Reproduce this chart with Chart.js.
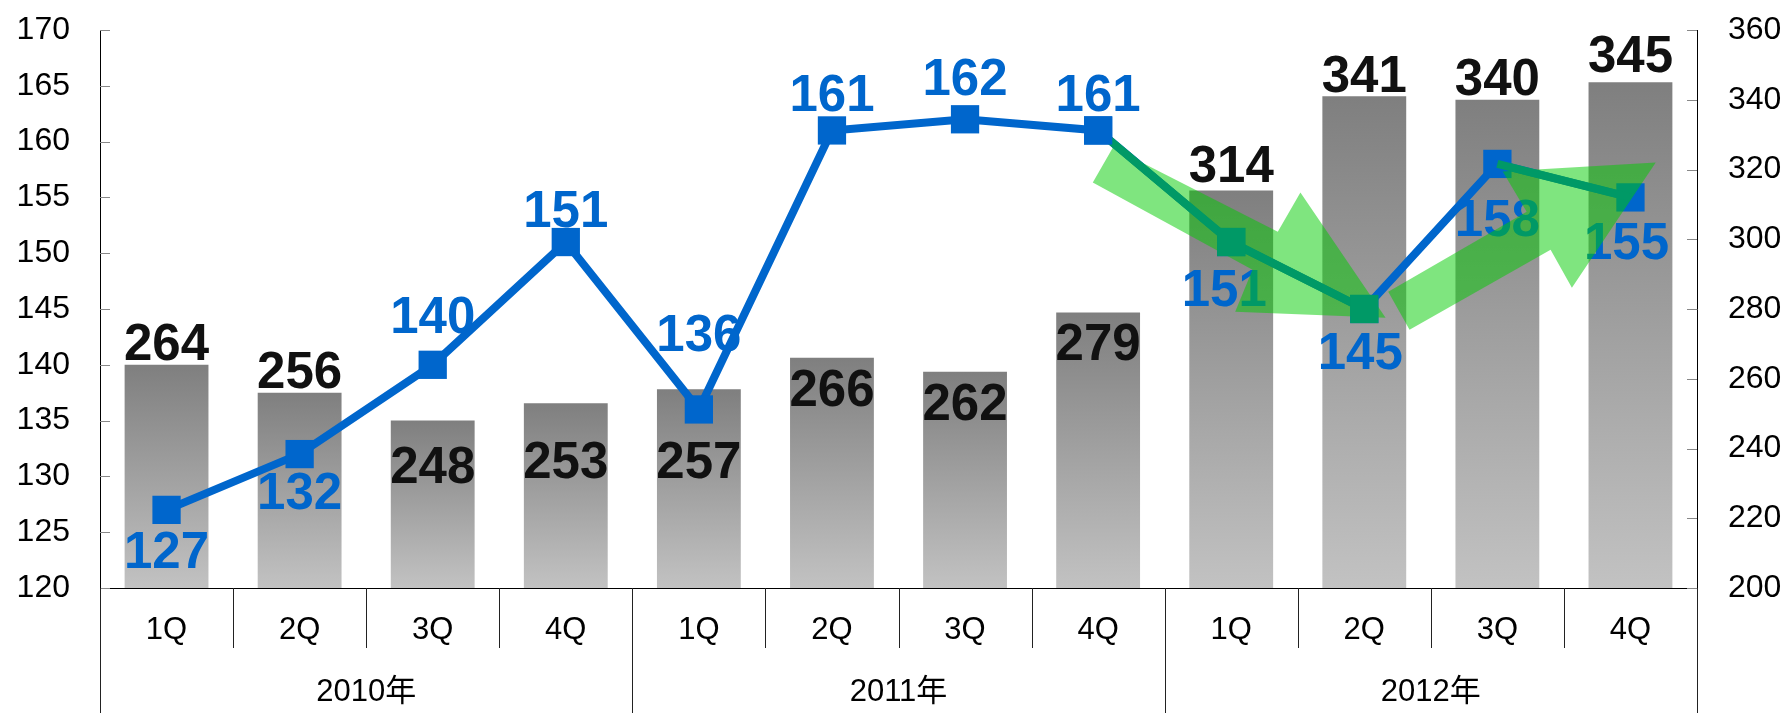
<!DOCTYPE html>
<html>
<head>
<meta charset="utf-8">
<script src="https://cdn.jsdelivr.net/npm/chart.js@4.4.1/dist/chart.umd.min.js"></script>
<style>
  html, body { margin: 0; padding: 0; background: #fff; }
  #wrap { width: 1787px; height: 713px; position: relative; }
</style>
</head>
<body>
<div id="wrap"><canvas id="chart"></canvas></div>
<script>
// ── DATA ──
const quarters = ['1Q', '2Q', '3Q', '4Q', '1Q', '2Q', '3Q', '4Q', '1Q', '2Q', '3Q', '4Q'];
const years = ['2010年', '2011年', '2012年'];
const barValues = [264, 256, 248, 253, 257, 266, 262, 279, 314, 341, 340, 345];   // right axis
const lineValues = [127, 132, 140, 151, 136, 161, 162, 161, 151, 145, 158, 155];  // left axis
const leftMin = 120, leftMax = 170, leftStep = 5;
const rightMin = 200, rightMax = 360, rightStep = 20;
const highlightRanges = [[7, 9], [10, 11]]; // green-marked parts of the line
const greenMarkers = [8, 9];

// arrow annotations, vertices as [category index, left axis value]
const arrowShapes = [
    [[7.11, 159.46], [8.35, 151.93], [8.52, 155.43], [9.16, 144.22], [8.03, 144.75], [8.16, 148.52], [6.96, 156.34]],
    [[9.18, 146.55], [10.22, 153.72], [10.04, 157.31], [11.19, 158.12], [10.56, 146.91], [10.40, 150.31], [9.34, 143.14]]
];

// label offsets (px) from bar top / point
const barLabelDy = [-23, -23, 44, 57, 71, 30, 30, 29, -27, -23, -23, -29];
const lineLabelDy = [40, 37, -50, -33, -77, -38, -43, -38, 46, 42, 54, 43];
const lineLabelDx = [0, 0, 0, 0, 0, 0, 0, 0, -7, -4, 0, -4];

const BLUE = '#0066cc';
const TEAL = '#009966';
const FONT = '"Liberation Sans", Arial, "Noto Sans CJK SC", sans-serif';

const inRange = i => highlightRanges.some(([a, b]) => i >= a && i <= b);
const sameRange = (i, j) => highlightRanges.some(([a, b]) => i >= a && i <= b && j >= a && j <= b);
const firstHighlight = highlightRanges[0][0];

function drawLabel(ctx, text, x, cy, color, size, bold) {
    ctx.font = (bold ? 'bold ' : '') + size + 'px ' + FONT;
    ctx.fillStyle = color;
    ctx.textAlign = 'center';
    ctx.textBaseline = 'alphabetic';
    ctx.fillText(text, x, cy + size * 0.358);
}

// ── OVERLAY: labels, arrows, ticks, category axis ──
const overlayPlugin = {
    id: 'overlay',
    afterDatasetDraw(chart, args) {
        if (args.index !== 1) return; // after the blue line, before the green overlay line
        const ctx = chart.ctx;
        const { x, y, y2 } = chart.scales;
        ctx.save();
        chart.getDatasetMeta(0).data.forEach((bar, i) => {
            drawLabel(ctx, String(barValues[i]), bar.x, y2.getPixelForValue(barValues[i]) + barLabelDy[i], '#111', 51, true);
        });
        chart.getDatasetMeta(1).data.forEach((pt, i) => {
            drawLabel(ctx, String(lineValues[i]), pt.x + lineLabelDx[i], pt.y + lineLabelDy[i], BLUE, 51, true);
        });
        ctx.fillStyle = 'rgba(0, 204, 0, 0.5)';
        arrowShapes.forEach(shape => {
            ctx.beginPath();
            shape.forEach(([c, v], k) => {
                const px = x.getPixelForValue(c), py = y.getPixelForValue(v);
                if (k) ctx.lineTo(px, py); else ctx.moveTo(px, py);
            });
            ctx.closePath();
            ctx.fill();
        });
        ctx.restore();
    },
    afterDraw(chart) {
        const ctx = chart.ctx;
        const { x, y, y2 } = chart.scales;
        const area = chart.chartArea;
        ctx.save();
        // inward tick marks
        ctx.strokeStyle = '#888';
        ctx.lineWidth = 1;
        ctx.beginPath();
        y.ticks.forEach(t => {
            const py = Math.round(y.getPixelForValue(t.value)) + 0.5;
            ctx.moveTo(area.left, py); ctx.lineTo(area.left + 10, py);
        });
        y2.ticks.forEach(t => {
            const py = Math.round(y2.getPixelForValue(t.value)) + 0.5;
            ctx.moveTo(area.right - 10, py); ctx.lineTo(area.right, py);
        });
        ctx.stroke();
        // category separators
        const h = chart.height;
        const step = (area.right - area.left) / quarters.length;
        ctx.strokeStyle = '#222';
        ctx.beginPath();
        for (let i = 0; i <= quarters.length; i++) {
            const px = Math.round(area.left + step * i) + 0.5;
            const yearEdge = i % 4 === 0;
            ctx.moveTo(px, area.bottom);
            ctx.lineTo(px, yearEdge ? h : area.bottom + 60);
        }
        ctx.stroke();
        // quarter + year labels
        quarters.forEach((q, i) => {
            drawLabel(ctx, q, x.getPixelForValue(i), area.bottom + 40, '#000', 31, false);
        });
        years.forEach((yr, k) => {
            const cx = (x.getPixelForValue(k * 4) + x.getPixelForValue(k * 4 + 3)) / 2;
            drawLabel(ctx, yr, cx, area.bottom + 102, '#000', 31, false);
        });
        ctx.restore();
    }
};

function barGradient(c) {
    const chart = c.chart;
    const s = chart.scales.y2;
    if (!s || c.raw == null) return '#a0a0a0';
    const top = s.getPixelForValue(c.raw);
    const bottom = s.getPixelForValue(s.min);
    if (!isFinite(top) || !isFinite(bottom) || top === bottom) return '#a0a0a0';
    const g = chart.ctx.createLinearGradient(0, top, 0, bottom);
    g.addColorStop(0, '#7f7f7f');
    g.addColorStop(1, '#c2c2c2');
    return g;
}

const tickFont = { family: FONT, size: 32 };

new Chart(document.getElementById('chart').getContext('2d'), {
    type: 'bar',
    data: {
        labels: quarters,
        datasets: [
            {
                type: 'bar',
                data: barValues,
                yAxisID: 'y2',
                backgroundColor: barGradient,
                borderWidth: 0,
                categoryPercentage: 1,
                barPercentage: 0.63,
                order: 3
            },
            {
                type: 'line',
                data: lineValues,
                yAxisID: 'y',
                borderColor: BLUE,
                borderWidth: 8,
                pointStyle: 'rect',
                pointRadius: 20,
                pointBackgroundColor: BLUE,
                pointBorderWidth: 0,
                tension: 0,
                order: 2
            },
            {
                // green overlay on the last stretch of the line
                type: 'line',
                data: lineValues.map((v, i) => inRange(i) ? v : null),
                yAxisID: 'y',
                borderColor: TEAL,
                borderWidth: 8,
                spanGaps: true,
                segment: {
                    borderColor: c => sameRange(c.p0DataIndex, c.p1DataIndex) ? TEAL : 'rgba(0,0,0,0)'
                },
                pointStyle: 'rect',
                pointRadius: c => (c.dataIndex === firstHighlight || greenMarkers.includes(c.dataIndex)) ? 20 : 0,
                pointBackgroundColor: c => c.dataIndex === firstHighlight ? BLUE : TEAL,
                pointBorderWidth: 0,
                tension: 0,
                order: 1
            }
        ]
    },
    options: {
        responsive: true,
        maintainAspectRatio: false,
        animation: false,
        layout: { padding: { top: 30, left: 0, right: 0, bottom: 0 } },
        scales: {
            x: {
                offset: true,
                ticks: { display: false },
                grid: { display: true, drawOnChartArea: false, drawTicks: false },
                border: { display: true, color: '#000', width: 1 },
                afterFit: s => { s.height = 125; }
            },
            y: {
                position: 'left',
                min: leftMin, max: leftMax,
                ticks: { stepSize: leftStep, color: '#000', font: tickFont, padding: 0 },
                grid: { display: true, drawOnChartArea: false, drawTicks: true, tickLength: 30, tickColor: 'rgba(0,0,0,0)' },
                border: { display: true, color: '#000', width: 1 },
                afterFit: s => { s.width = 100; }
            },
            y2: {
                position: 'right',
                min: rightMin, max: rightMax,
                ticks: { stepSize: rightStep, color: '#000', font: tickFont, padding: 0 },
                grid: { display: true, drawOnChartArea: false, drawTicks: true, tickLength: 31, tickColor: 'rgba(0,0,0,0)' },
                border: { display: true, color: '#000', width: 1 },
                afterFit: s => { s.width = 90; }
            }
        },
        plugins: {
            legend: { display: false },
            tooltip: { enabled: false }
        }
    },
    plugins: [overlayPlugin]
});
</script>
</body>
</html>
